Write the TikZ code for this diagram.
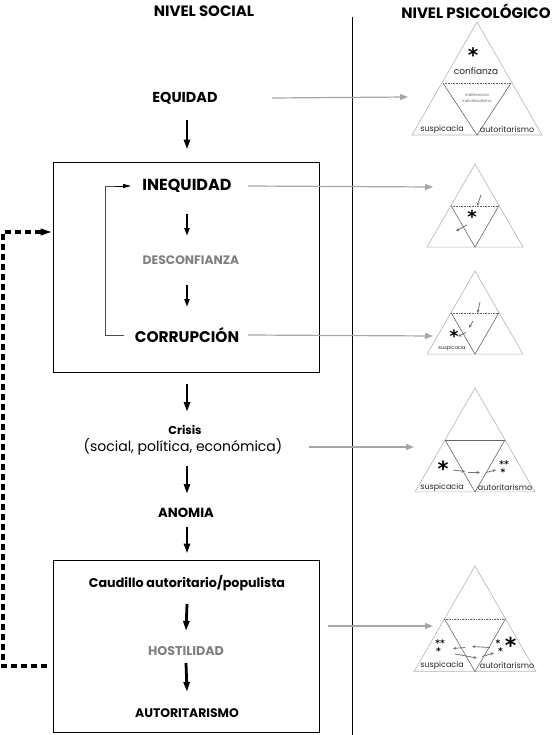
\documentclass[tikz,border=0pt]{standalone}
\usepackage{fontspec}
\setmainfont{Poppins}
\newfontfamily\symfont{DejaVu Sans}
\usetikzlibrary{arrows.meta,calc}
\definecolor{txtgray}{HTML}{7F7F7F}
\definecolor{arrgray}{HTML}{A6A6A6}
\definecolor{trigray}{HTML}{B4B4B4}
\definecolor{innergray}{HTML}{666666}
\newcommand\psytri[3]{%
  \pgfmathsetmacro\trX{#1}\pgfmathsetmacro\trY{#2}\pgfmathsetmacro\trS{#3}%
  \pgfmathsetmacro\trH{0.866*\trS}%
  \draw[outertri] (\trX,\trY) -- (\trX-\trS/2,\trY+\trH) -- (\trX+\trS/2,\trY+\trH) -- cycle;
  \draw[innertri] (\trX-\trS/4,\trY+\trH/2) -- (\trX,\trY+\trH) -- (\trX+\trS/4,\trY+\trH/2);
}
\newcommand\fs[1]{\fontsize{#1}{#1}\selectfont}
\tikzset{
  head/.style={font=\bfseries\fs{15}, inner sep=0pt},
  lbl/.style={font=\bfseries\fs{14}, inner sep=0pt},
  glbl/.style={lbl, text=txtgray},
  bigarrow/.style={line width=2.8pt, -{Triangle[length=10pt,width=6pt]}},
  midarrow/.style={line width=2pt, -{Triangle[length=8pt,width=5pt]}},
  grayarrow/.style={draw=arrgray, line width=1.2pt, -{Triangle[length=8pt,width=6pt]}},
  frame/.style={draw, line width=0.8pt, minimum width=266pt, inner sep=0pt},
  outertri/.style={draw=trigray, line width=0.6pt},
  innertri/.style={draw=innergray, line width=0.6pt},
  innertop/.style={draw=innergray, line width=0.6pt, densely dotted},
  trilbl/.style={font=\fs{8}, inner sep=0pt, text=black!85},
  tinylbl/.style={font=\fs{4}, inner sep=0pt, text=black!60},
  star/.style={font=\symfont\bfseries\fs{#1}, inner sep=0pt, anchor=north},
  star/.default=16,
  smallstar/.style={font=\symfont\bfseries\fs{9}, inner sep=0pt, anchor=north},
  miniarrow/.style={draw=black!55, line width=0.8pt, -{Stealth[length=3.5pt,width=3pt]}},
  loopline/.style={draw=black!70, line width=0.8pt},
  fbdash/.style={line width=3.4pt, dash pattern=on 6pt off 4pt, -{Triangle[length=12pt,width=6pt]}},
}
\begin{document}
\begin{tikzpicture}[x=1pt,y=-1pt]
\useasboundingbox (0,0) rectangle (554,735);
% headers
\node[head] (hsoc) at (204,11) {NIVEL SOCIAL};
\node[head] (hpsi) at (476,11) {NIVEL PSICOLÓGICO};
\coordinate (divtop) at (352,17);
\coordinate (divbot) at (352,735);
\draw[line width=0.8pt] (divtop) -- (divbot);

% social column
\node[lbl, font=\bfseries\fs{14.4}] (equidad) at (185,98) {EQUIDAD};
\node[frame, minimum height=210pt] (box1) at (186,267) {};
\node[lbl, font=\bfseries\fs{16}] (inequidad) at (187,186) {INEQUIDAD};
\node[glbl, font=\bfseries\fs{12.3}] (desconf) at (191,260) {DESCONFIANZA};
\node[lbl, font=\bfseries\fs{15.4}] (corrup) at (187,335) {CORRUPCIÓN};
\node[lbl, font=\bfseries\fs{11.5}] (crisis) at (185,430) {Crisis};
\node[inner sep=0pt, font=\fs{14}] (crisis2) at (183,447) {(social, política, económica)};
\node[lbl, font=\bfseries\fs{13.2}] (anomia) at (186,513) {ANOMIA};
\node[frame, minimum height=172pt] (box2) at (186,646) {};
\node[lbl, font=\bfseries\fs{12.7}] (caudillo) at (187,583) {Caudillo autoritario/populista};
\node[glbl, font=\bfseries\fs{12.7}] (hostil) at (186,651) {HOSTILIDAD};
\node[lbl, font=\bfseries\fs{12.4}] (autor) at (187,713) {AUTORITARISMO};

% vertical arrows
\draw[bigarrow] ($(equidad)+(2,22)$) -- ($(box1.north)+(1,-12)$);
\draw[midarrow] ($(inequidad)+(0,28)$) -- ($(desconf)+(-4,-24)$);
\draw[midarrow] ($(desconf)+(-4,25)$) -- ($(corrup)+(0,-28)$);
\draw[bigarrow] ($(box1.south)+(1,12)$) -- ($(crisis)+(2,-18)$);
\draw[bigarrow] ($(crisis2)+(4,19)$) -- ($(anomia)+(1,-19)$);
\draw[bigarrow] ($(anomia)+(1,14)$) -- ($(box2.north)+(1,-6)$);
\draw[bigarrow] ($(caudillo)+(0,21)$) -- ($(hostil)+(0,-20)$);
\draw[bigarrow] ($(hostil)+(0,12)$) -- ($(autor)+(0,-21)$);

% loop inside box 1
\coordinate (loopx) at (105,0);
\coordinate (loopin) at (124,0);
\coordinate (loopend) at (131,0);
\draw[loopline] (corrup -| loopin) -| (loopx |- inequidad) -- (inequidad -| loopin);
\draw[line width=0.8pt, -{Triangle[length=8pt,width=4pt]}] (inequidad -| 115,0) -- (inequidad -| loopend);

% feedback dashed path
\coordinate (fbstart) at (47,666);
\coordinate (fbcorner) at (3,232);
\draw[fbdash] (fbstart) -| (fbcorner) -- (box1.west |- fbcorner);

% triangles
\draw[outertri] (477,22) -- (412,135) -- (542,135) -- cycle;
\draw[innertri] (443,83) -- (477,135) -- (511,83);
\psytri{475}{164}{96}
\psytri{475}{271}{96}
\psytri{475}{388}{120}
\psytri{475}{566}{122}
% inner top edges
\draw[innertop] (443,83) -- (511,83);
\draw[innertop] (451,206) -- (499,206);
\draw[innertop] (451,313) -- (499,313);
\draw[draw=innergray, line width=1pt] (445,440) -- (505,440);
\draw[innertop] (444,619) -- (506,619);

% gray arrows to triangles
\coordinate (t1in) at (408,97);
\coordinate (t2in) at (433,187);
\coordinate (t3in) at (433,336);
\coordinate (t4in) at (414,447);
\coordinate (t5in) at (433,626);
\draw[grayarrow] (equidad -| 272,0) -- (t1in);
\draw[grayarrow] (inequidad -| 248,0) -- (t2in);
\draw[grayarrow] (corrup -| 248,0) -- (t3in);
\draw[grayarrow] (crisis2 -| 309,0) -- (t4in);
\draw[grayarrow] (box2.east |- t5in) ++(9,0) -- (t5in);

% triangle 1 contents
\node[star=20] (s1) at (473,47.5) {*};
\node[trilbl, font=\fs{9}] (conf) at (476,71.5) {confianza};
\node[tinylbl] (indif) at (477,95) {indiferencia};
\node[tinylbl] (indiv) at (477,101) {individualismo};
\node[trilbl] (susp1) at (442,129) {suspicacia};
\node[trilbl] (aut1) at (507,129) {autoritarismo};

% triangle 2 contents
\node[star=18] (s2) at (472,210) {*};
\draw[miniarrow] (481,195) -- (477,206);
\draw[miniarrow] (467,225) -- (456,231);

% triangle 3 contents
\node[star=17] (s3) at (454,330) {*};
\node[trilbl, font=\fs{5}] (susp3) at (452,348) {suspicacia};
\draw[miniarrow] (480,302) -- (477.5,313);
\draw[miniarrow] (473,321) -- (469,328);
\draw[miniarrow] (466,332.5) -- (458,336.5);

% triangle 4 contents
\node[star=21] (s4) at (443,461) {*};
\node[smallstar] (s4r1) at (504,461) {**};
\node[smallstar] (s4r2) at ($(s4r1.south)+(-1,0.5)$) {*};
\draw[miniarrow] (453,470) -- (465,471.5);
\draw[miniarrow] (468,472.5) -- (480,472.5);
\draw[miniarrow] (486,472.5) -- (496,470);
\node[trilbl] (susp4) at (442,487) {suspicacia};
\node[trilbl] (aut4) at (505,487) {autoritarismo};

% triangle 5 contents
\node[smallstar] (s5l1) at (440,640) {**};
\node[smallstar] (s5l2) at ($(s5l1.south)+(-1.5,0.5)$) {*};
\node[smallstar] (s5m1) at (498,640) {*};
\node[smallstar] (s5m2) at ($(s5m1.south)+(2.5,0.5)$) {*};
\node[star=22] (s5r) at (510.5,637) {*};
\draw[miniarrow] (490,647.5) -- (472,646.5);
\draw[miniarrow] (465,647.5) -- (453,648.5);
\draw[miniarrow] (455,654) -- (477,658);
\draw[miniarrow] (482,656.5) -- (494,653);
\node[trilbl] (susp5) at (442,665) {suspicacia};
\node[trilbl] (aut5) at (507,665) {autoritarismo};
\end{tikzpicture}
\end{document}
